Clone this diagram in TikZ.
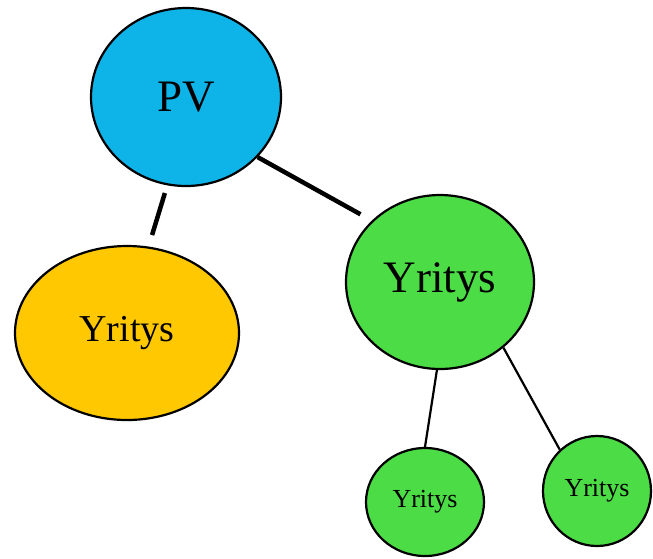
\documentclass[tikz,border=0pt]{standalone}
\usepackage{fontspec}
\setmainfont{Liberation Serif}
\usepackage{xcolor}
\usepackage{tikz}
\usetikzlibrary{shapes.geometric}

\definecolor{pvblue}{RGB}{14,180,232}
\definecolor{firmyellow}{RGB}{255,200,0}
\definecolor{firmgreen}{RGB}{76,220,70}

\begin{document}
\begin{tikzpicture}[x=1pt, y=-1pt,
    firm/.style={ellipse, draw=black, line width=2.2pt, inner sep=0pt},
    link/.style={black, line width=4.5pt},
    sublink/.style={black, line width=2.2pt}]
    \useasboundingbox (0,0) rectangle (653,558);
    % Owner and the first level
    \node[firm, fill=pvblue, minimum width=190pt, minimum height=178pt,
        font=\fontsize{45}{50}\selectfont] (pv) at (186,97) {PV};
    \node[firm, fill=firmyellow, minimum width=224pt, minimum height=174pt,
        font=\fontsize{38}{42}\selectfont] (yel) at (127,333) {Yritys};
    \node[firm, fill=firmgreen, minimum width=188pt, minimum height=174pt,
        font=\fontsize{45}{50}\selectfont] (big) at (440,282) {Yritys};
    % Second level
    \node[firm, fill=firmgreen, minimum width=118pt, minimum height=108pt,
        font=\fontsize{26}{30}\selectfont] (subl) at (425,502) {Yritys};
    \node[firm, fill=firmgreen, minimum width=108pt, minimum height=110pt,
        font=\fontsize{26}{30}\selectfont] (subr) at (597,491) {Yritys};
    % Connectors
    \draw[link, shorten <=8pt, shorten >=12pt] (pv.-102) -- (yel.76);
    \draw[link, shorten >=13pt] (pv.-40) -- (big.138);
    \draw[sublink] (big.-92) -- (subl.90);
    \draw[sublink] (big.-46) -- (subr.132);
\end{tikzpicture}
\end{document}
